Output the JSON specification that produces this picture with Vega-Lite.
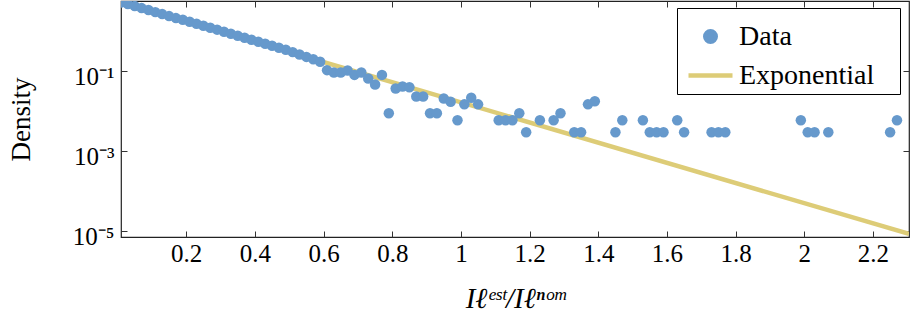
{
  "$schema": "https://vega.github.io/schema/vega-lite/v6.json",
  "width": 788,
  "height": 236,
  "autosize": {"type": "none"},
  "padding": {"left": 121, "top": 1, "right": 1, "bottom": 86},
  "background": "white",
  "config": {
    "view": {"stroke": "#222222", "strokeWidth": 1.2},
    "font": "Liberation Serif",
    "axis": {
      "domain": false,
      "gridDash": [5, 5],
      "gridColor": "#c4c4c4",
      "gridWidth": 1,
      "tickColor": "#333333",
      "tickWidth": 1,
      "tickSize": -6,
      "labelFont": "Liberation Serif",
      "labelFontSize": 25,
      "labelColor": "black",
      "titleFont": "Liberation Serif",
      "titleFontSize": 27,
      "titleColor": "black",
      "titleFontWeight": "normal"
    }
  },
  "datasets": {
    "pts": [
      {"x": 0.01, "density": 5.01, "series": "Data"},
      {"x": 0.03, "density": 4.57, "series": "Data"},
      {"x": 0.05, "density": 4.07, "series": "Data"},
      {"x": 0.07, "density": 3.63, "series": "Data"},
      {"x": 0.09, "density": 3.24, "series": "Data"},
      {"x": 0.11, "density": 2.88, "series": "Data"},
      {"x": 0.13, "density": 2.57, "series": "Data"},
      {"x": 0.15, "density": 2.29, "series": "Data"},
      {"x": 0.17, "density": 2.04, "series": "Data"},
      {"x": 0.19, "density": 1.86, "series": "Data"},
      {"x": 0.21, "density": 1.66, "series": "Data"},
      {"x": 0.23, "density": 1.48, "series": "Data"},
      {"x": 0.25, "density": 1.32, "series": "Data"},
      {"x": 0.27, "density": 1.17, "series": "Data"},
      {"x": 0.29, "density": 1.05, "series": "Data"},
      {"x": 0.31, "density": 0.933, "series": "Data"},
      {"x": 0.33, "density": 0.832, "series": "Data"},
      {"x": 0.35, "density": 0.741, "series": "Data"},
      {"x": 0.37, "density": 0.661, "series": "Data"},
      {"x": 0.39, "density": 0.589, "series": "Data"},
      {"x": 0.41, "density": 0.525, "series": "Data"},
      {"x": 0.43, "density": 0.468, "series": "Data"},
      {"x": 0.45, "density": 0.417, "series": "Data"},
      {"x": 0.47, "density": 0.372, "series": "Data"},
      {"x": 0.49, "density": 0.331, "series": "Data"},
      {"x": 0.51, "density": 0.288, "series": "Data"},
      {"x": 0.53, "density": 0.251, "series": "Data"},
      {"x": 0.55, "density": 0.219, "series": "Data"},
      {"x": 0.57, "density": 0.191, "series": "Data"},
      {"x": 0.59, "density": 0.166, "series": "Data"},
      {"x": 0.61, "density": 0.102, "series": "Data"},
      {"x": 0.63, "density": 0.0891, "series": "Data"},
      {"x": 0.65, "density": 0.0891, "series": "Data"},
      {"x": 0.67, "density": 0.100, "series": "Data"},
      {"x": 0.69, "density": 0.0776, "series": "Data"},
      {"x": 0.71, "density": 0.0891, "series": "Data"},
      {"x": 0.73, "density": 0.0631, "series": "Data"},
      {"x": 0.75, "density": 0.0447, "series": "Data"},
      {"x": 0.77, "density": 0.0776, "series": "Data"},
      {"x": 0.79, "density": 0.00855, "series": "Data"},
      {"x": 0.81, "density": 0.0355, "series": "Data"},
      {"x": 0.83, "density": 0.0398, "series": "Data"},
      {"x": 0.85, "density": 0.0380, "series": "Data"},
      {"x": 0.87, "density": 0.0224, "series": "Data"},
      {"x": 0.89, "density": 0.0224, "series": "Data"},
      {"x": 0.91, "density": 0.00855, "series": "Data"},
      {"x": 0.93, "density": 0.00855, "series": "Data"},
      {"x": 0.95, "density": 0.0200, "series": "Data"},
      {"x": 0.97, "density": 0.0166, "series": "Data"},
      {"x": 0.99, "density": 0.0057, "series": "Data"},
      {"x": 1.01, "density": 0.01425, "series": "Data"},
      {"x": 1.03, "density": 0.0209, "series": "Data"},
      {"x": 1.05, "density": 0.01425, "series": "Data"},
      {"x": 1.11, "density": 0.0057, "series": "Data"},
      {"x": 1.13, "density": 0.0057, "series": "Data"},
      {"x": 1.15, "density": 0.0057, "series": "Data"},
      {"x": 1.17, "density": 0.00855, "series": "Data"},
      {"x": 1.19, "density": 0.00285, "series": "Data"},
      {"x": 1.23, "density": 0.0057, "series": "Data"},
      {"x": 1.27, "density": 0.0057, "series": "Data"},
      {"x": 1.29, "density": 0.00855, "series": "Data"},
      {"x": 1.33, "density": 0.00285, "series": "Data"},
      {"x": 1.35, "density": 0.00285, "series": "Data"},
      {"x": 1.37, "density": 0.01425, "series": "Data"},
      {"x": 1.39, "density": 0.0171, "series": "Data"},
      {"x": 1.45, "density": 0.00285, "series": "Data"},
      {"x": 1.47, "density": 0.0057, "series": "Data"},
      {"x": 1.53, "density": 0.0057, "series": "Data"},
      {"x": 1.55, "density": 0.00285, "series": "Data"},
      {"x": 1.57, "density": 0.00285, "series": "Data"},
      {"x": 1.59, "density": 0.00285, "series": "Data"},
      {"x": 1.63, "density": 0.0057, "series": "Data"},
      {"x": 1.65, "density": 0.00285, "series": "Data"},
      {"x": 1.73, "density": 0.00285, "series": "Data"},
      {"x": 1.75, "density": 0.00285, "series": "Data"},
      {"x": 1.77, "density": 0.00285, "series": "Data"},
      {"x": 1.99, "density": 0.0057, "series": "Data"},
      {"x": 2.01, "density": 0.00285, "series": "Data"},
      {"x": 2.03, "density": 0.00285, "series": "Data"},
      {"x": 2.07, "density": 0.00285, "series": "Data"},
      {"x": 2.25, "density": 0.00285, "series": "Data"},
      {"x": 2.27, "density": 0.0057, "series": "Data"}
    ],
    "fit": [
      {"x": 0.01, "density": 5.0, "series": "Exponential"},
      {"x": 2.305, "density": 0.00000822, "series": "Exponential"}
    ]
  },
  "layer": [
    {
      "data": {"name": "fit"},
      "mark": {"type": "line", "strokeWidth": 4.5, "clip": true},
      "encoding": {
        "x": {
          "field": "x", "type": "quantitative",
          "scale": {"domain": [0.01, 2.305], "nice": false, "zero": false},
          "axis": {"orient": "top", "values": [0.2, 0.4, 0.6, 0.8, 1, 1.2, 1.4, 1.6, 1.8, 2, 2.2], "labels": false, "grid": false, "title": null}
        },
        "y": {
          "field": "density", "type": "quantitative",
          "scale": {"type": "log", "domain": [0.00000688, 5.464], "nice": false},
          "axis": {"orient": "right", "values": [0.1, 0.001, 0.00001], "labels": false, "grid": false, "title": null}
        },
        "color": {
          "field": "series", "type": "nominal",
          "scale": {"domain": ["Data", "Exponential"], "range": ["#6699CC", "#DDCC77"]},
          "legend": {
            "orient": "none", "legendX": 556, "legendY": 7, "title": null,
            "strokeColor": "black", "fillColor": "white", "padding": 4, "rowPadding": 0,
            "labelFont": "Liberation Serif", "labelFontSize": 28, "labelColor": "black", "labelOffset": 4,
            "labelExpr": "datum.label + '\u2800'",
            "symbolSize": 400, "symbolOffset": 5, "symbolStrokeWidth": 4.5, "symbolType": "stroke",
            "encode": {"symbols": {"update": {
              "shape": {"signal": "datum.value === 'Data' ? 'circle' : 'M-1,0L1,0'"},
              "size": {"signal": "datum.value === 'Data' ? 110 : 1936"},
              "fill": {"signal": "datum.value === 'Data' ? '#6699CC' : 'transparent'"},
              "stroke": {"signal": "datum.value === 'Data' ? 'transparent' : '#DDCC77'"},
              "strokeWidth": {"value": 4.5},
              "opacity": {"value": 1}
            }}}
          }
        }
      }
    },
    {
      "data": {"name": "pts"},
      "mark": {"type": "point", "filled": true, "size": 110, "opacity": 1, "clip": true},
      "encoding": {
        "x": {
          "field": "x", "type": "quantitative",
          "scale": {"domain": [0.01, 2.305], "nice": false, "zero": false},
          "axis": {"orient": "bottom", "values": [0.2, 0.4, 0.6, 0.8, 1, 1.2, 1.4, 1.6, 1.8, 2, 2.2], "format": ".1~f", "labelPadding": 10, "title": "Iℓᵉˢᵗ/Iℓⁿᵒᵐ", "titleFontStyle": "italic", "titleFontSize": 29, "titleY": 61, "titleBaseline": "middle"}
        },
        "y": {
          "field": "density", "type": "quantitative",
          "scale": {"type": "log", "domain": [0.00000688, 5.464], "nice": false},
          "axis": {"orient": "left", "values": [0.1, 0.001, 0.00001], "labelExpr": "datum.value > 0.01 ? '10⁻¹' : (datum.value > 0.0001 ? '10⁻³' : '10⁻⁵')", "labelPadding": 13, "labelOffset": 6, "title": "Density", "titleX": -100, "titleY": 118, "titleAngle": -90, "titleBaseline": "middle", "titleAlign": "center"}
        },
        "color": {
          "field": "series", "type": "nominal",
          "scale": {"domain": ["Data", "Exponential"], "range": ["#6699CC", "#DDCC77"]},
          "legend": {
            "orient": "none", "legendX": 556, "legendY": 7, "title": null,
            "strokeColor": "black", "fillColor": "white", "padding": 4, "rowPadding": 0,
            "labelFont": "Liberation Serif", "labelFontSize": 28, "labelColor": "black", "labelOffset": 4,
            "labelExpr": "datum.label + '\u2800'",
            "symbolSize": 400, "symbolOffset": 5, "symbolStrokeWidth": 4.5, "symbolType": "stroke",
            "encode": {"symbols": {"update": {
              "shape": {"signal": "datum.value === 'Data' ? 'circle' : 'M-1,0L1,0'"},
              "size": {"signal": "datum.value === 'Data' ? 110 : 1936"},
              "fill": {"signal": "datum.value === 'Data' ? '#6699CC' : 'transparent'"},
              "stroke": {"signal": "datum.value === 'Data' ? 'transparent' : '#DDCC77'"},
              "strokeWidth": {"value": 4.5},
              "opacity": {"value": 1}
            }}}
          }
        }
      }
    }
  ],
  "resolve": {"axis": {"x": "independent", "y": "independent"}}
}
